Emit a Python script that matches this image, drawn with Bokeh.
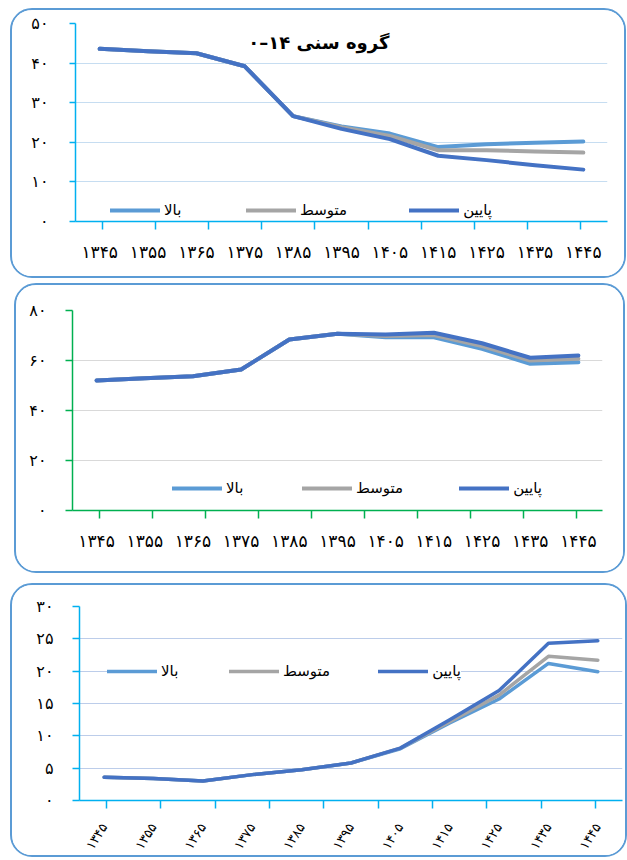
import math
from bokeh.plotting import figure
from bokeh.models import (Range1d, FactorRange, CategoricalAxis, Legend,
                          LegendItem, Label, FixedTicker, CategoricalScale,
                          CustomLabelingPolicy)
from bokeh.embed import file_html
from bokeh.resources import INLINE

# ---------------- data ----------------
years = ["۱۳۴۵", "۱۳۵۵", "۱۳۶۵", "۱۳۷۵", "۱۳۸۵", "۱۳۹۵",
         "۱۴۰۵", "۱۴۱۵", "۱۴۲۵", "۱۴۳۵", "۱۴۴۵"]
series_labels = ["بالا", "متوسط", "پایین"]
title1 = "گروه سنی ۱۴–۰"

# panel 1 : age group 0-14
p1_high = [43.6, 43.0, 42.5, 39.2, 26.6, 24.0, 22.2, 18.8, 19.5, 19.9, 20.2]
p1_mid = [43.6, 43.0, 42.5, 39.2, 26.6, 23.8, 21.6, 18.0, 18.0, 17.7, 17.4]
p1_low = [43.6, 43.0, 42.5, 39.2, 26.6, 23.4, 20.8, 16.6, 15.5, 14.2, 13.1]

# panel 2
p2_high = [52.0, 52.9, 53.7, 56.4, 68.4, 70.7, 69.3, 69.3, 64.7, 58.7, 59.3]
p2_mid = [52.0, 52.9, 53.7, 56.4, 68.4, 70.7, 69.8, 70.2, 65.8, 60.0, 60.7]
p2_low = [52.0, 52.9, 53.7, 56.4, 68.4, 70.7, 70.4, 71.1, 66.9, 61.1, 62.0]

# panel 3
p3_high = [3.6, 3.4, 3.0, 4.0, 4.75, 5.8, 8.0, 12.0, 15.7, 21.2, 19.9]
p3_mid = [3.6, 3.4, 3.0, 4.0, 4.75, 5.8, 8.1, 12.2, 16.3, 22.3, 21.7]
p3_low = [3.6, 3.4, 3.0, 4.0, 4.75, 5.8, 8.1, 12.5, 17.0, 24.3, 24.7]

y1_ticks = [0, 10, 20, 30, 40, 50]
y2_ticks = [0, 20, 40, 60, 80]
y3_ticks = [0, 5, 10, 15, 20, 25, 30]

# ---------------- style ----------------
C_HIGH = "#5B9BD5"
C_MID = "#A5A5A5"
C_LOW = "#4472C4"
BORDER = "#5B9BD5"
FONT = "DejaVu Sans"

FA = str.maketrans("0123456789", "۰۱۲۳۴۵۶۷۸۹")


def fa(n):
    return str(n).translate(FA)


# factor names marking the boundaries between categories (never drawn)
bounds = ["b%d" % k for k in range(len(years) + 1)]

HIDE_CODE = """
for (const i of Array.from(indices)) {
  if (typeof indices.unset === "function") { indices.unset(i) } else { indices.set(i, false) }
}
return indices
"""


def panel(w, h, mb, margin, ymax, yticks, axis_color, grid_color,
          high, mid, low, lw, ystandoff, ytick_out, xstandoff, xfont,
          legend_loc, legend_spacing, legend_pad, legend_bg=None,
          orientation="horizontal"):
    p = figure(x_range=years, y_range=Range1d(0, ymax), width=w, height=h,
               output_backend="svg", toolbar_location=None,
               x_axis_location=None, y_axis_location="left",
               min_border_left=mb[0], min_border_right=mb[1],
               min_border_top=mb[2], min_border_bottom=mb[3],
               margin=margin)
    p.outline_line_color = None
    p.background_fill_color = "white"
    p.border_fill_color = "white"
    p.styles = {"border": "2px solid " + BORDER, "border-radius": "22px",
                "overflow": "hidden"}

    yt = FixedTicker(ticks=yticks)
    p.yaxis.ticker = yt
    p.yaxis.major_label_overrides = {t: fa(t) for t in yticks}
    p.yaxis.axis_line_color = axis_color
    p.yaxis.axis_line_width = 1.5
    p.yaxis.major_tick_line_color = axis_color
    p.yaxis.major_tick_line_width = 1.5
    p.yaxis.major_tick_out = ytick_out
    p.yaxis.major_tick_in = 0
    p.yaxis.minor_tick_line_color = None
    p.yaxis.major_label_text_font = FONT
    p.yaxis.major_label_text_font_size = "16px"
    p.yaxis.major_label_text_color = "black"
    p.yaxis.major_label_standoff = ystandoff

    p.ygrid.ticker = yt
    p.ygrid.grid_line_color = grid_color
    p.ygrid.grid_line_width = 1.2
    p.xgrid.visible = False

    # boundary factor range: its factor centres fall on category edges
    p.extra_x_ranges = {"b": FactorRange(factors=bounds, range_padding=-1,
                                         range_padding_units="absolute")}
    p.extra_x_scales = {"b": CategoricalScale()}
    tick_axis = CategoricalAxis(x_range_name="b",
                                axis_line_color=axis_color,
                                axis_line_width=1.5,
                                major_tick_line_color=axis_color,
                                major_tick_line_width=1.5,
                                major_tick_out=8, major_tick_in=0,
                                major_label_text_font_size="0px",
                                major_label_standoff=0,
                                major_label_policy=CustomLabelingPolicy(code=HIDE_CODE))
    p.add_layout(tick_axis, "below")
    lab_axis = CategoricalAxis(axis_line_color=None,
                               major_tick_line_color=None,
                               major_label_text_font=FONT,
                               major_label_text_font_size=xfont,
                               major_label_text_color="black",
                               major_label_standoff=xstandoff)
    if orientation != "horizontal":
        lab_axis.major_label_orientation = orientation
    p.add_layout(lab_axis, "below")

    r_high = p.line(years, high, line_color=C_HIGH, line_width=lw,
                    line_cap="round", line_join="round")
    r_mid = p.line(years, mid, line_color=C_MID, line_width=lw,
                   line_cap="round", line_join="round")
    r_low = p.line(years, low, line_color=C_LOW, line_width=lw,
                   line_cap="round", line_join="round")

    items = [LegendItem(label=series_labels[0], renderers=[r_high]),
             LegendItem(label=series_labels[1], renderers=[r_mid]),
             LegendItem(label=series_labels[2], renderers=[r_low])]
    leg = Legend(items=items, orientation="horizontal", location=legend_loc,
                 glyph_width=50, glyph_height=20, spacing=legend_spacing,
                 label_standoff=4, padding=legend_pad, margin=0,
                 label_text_font=FONT, label_text_font_size="15px",
                 label_text_color="black", border_line_color=None)
    if legend_bg is None:
        leg.background_fill_alpha = 0
    else:
        leg.background_fill_color = legend_bg
        leg.background_fill_alpha = 1
    p.add_layout(leg, "center")
    return p


# panel 1: outer box x 10..626, y 8..278
p1 = panel(616, 270, (63, 21, 13, 59), (8, 0, 0, 10), 50, y1_ticks,
           "#00B0F0", "#C6DDF1", p1_high, p1_mid, p1_low, 4,
           21, 6, 6, "17px", (35, 1), 62, 0)
p1.add_layout(Label(x=5.03, y=45.2, text=title1,
                    text_font=FONT, text_font_size="18px",
                    text_font_style="bold", text_align="center",
                    text_baseline="middle", text_color="black"))

# panel 2: outer box x 14..625, y 283..573
p2 = panel(611, 290, (56, 25, 25, 65), (5, 0, 0, 14), 80, y2_ticks,
           "#00B050", "#D9D9D9", p2_high, p2_mid, p2_low, 4,
           19, 7, 6, "17px", (100, 12), 56, 0)

# panel 3: outer box x 10..627, y 583..857
p3 = panel(617, 274, (67, 7, 21, 59), (10, 0, 0, 10), 30, y3_ticks,
           "#00B0F0", "#BCCDEA", p3_high, p3_mid, p3_low, 3.5,
           19, 7, 10, "13px", (28, 119), 48, 4, legend_bg="white",
           orientation=1.0)

open("out.html", "w").write(file_html([p1, p2, p3], INLINE))
